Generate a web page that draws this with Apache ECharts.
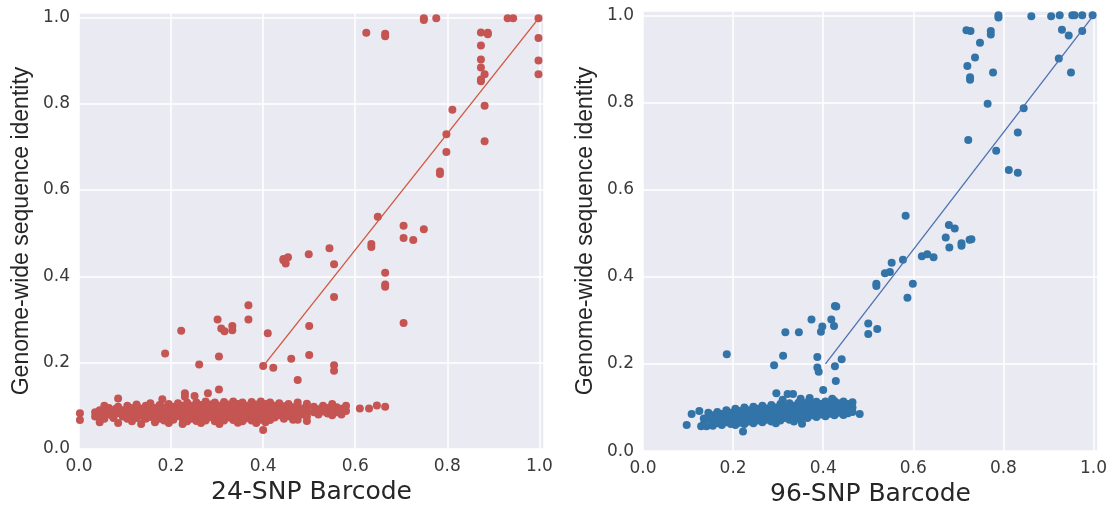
<!DOCTYPE html>
<html>
<head>
<meta charset="utf-8">
<script src="https://cdn.jsdelivr.net/npm/echarts@6/dist/echarts.min.js"></script>
<style>
  html, body { margin: 0; padding: 0; background: #fff; }
  #chart { width: 1111px; height: 512px; }
</style>
</head>
<body>
<div id="chart"></div>
<script>
// tick values shared by both panels
const tickValues = [0.0, 0.2, 0.4, 0.6, 0.8, 1.0];

// 24-SNP panel: dense band near 0.08 (x, y)
const band24 = [
  [0.035,0.085],[0.035,0.075],[0.045,0.09],[0.045,0.078],[0.045,0.062],[0.055,0.1],[0.055,0.085],[0.055,0.07],
  [0.065,0.095],[0.065,0.082],[0.075,0.088],[0.075,0.072],[0.085,0.098],[0.085,0.083],[0.085,0.06],[0.095,0.09],
  [0.095,0.075],[0.105,0.1],[0.105,0.088],[0.105,0.07],[0.115,0.095],[0.115,0.08],[0.115,0.064],[0.125,0.103],
  [0.125,0.087],[0.125,0.072],[0.135,0.092],[0.135,0.078],[0.135,0.058],[0.145,0.1],[0.145,0.085],[0.145,0.07],
  [0.155,0.106],[0.155,0.09],[0.155,0.074],[0.165,0.095],[0.165,0.08],[0.165,0.062],[0.175,0.102],[0.175,0.087],
  [0.175,0.07],[0.185,0.097],[0.185,0.082],[0.185,0.066],[0.195,0.104],[0.195,0.09],[0.195,0.075],[0.195,0.06],
  [0.205,0.098],[0.205,0.083],[0.205,0.068],[0.215,0.106],[0.215,0.092],[0.215,0.077],[0.225,0.1],[0.225,0.086],
  [0.225,0.07],[0.225,0.058],[0.235,0.107],[0.235,0.093],[0.235,0.078],[0.235,0.064],[0.245,0.1],[0.245,0.085],
  [0.245,0.07],[0.255,0.108],[0.255,0.094],[0.255,0.08],[0.255,0.065],[0.265,0.102],[0.265,0.087],[0.265,0.072],
  [0.265,0.06],[0.275,0.11],[0.275,0.095],[0.275,0.08],[0.275,0.066],[0.285,0.103],[0.285,0.089],[0.285,0.074],
  [0.295,0.108],[0.295,0.094],[0.295,0.079],[0.295,0.064],[0.305,0.1],[0.305,0.086],[0.305,0.071],[0.305,0.058],
  [0.315,0.109],[0.315,0.095],[0.315,0.08],[0.315,0.066],[0.325,0.103],[0.325,0.088],[0.325,0.073],[0.335,0.11],
  [0.335,0.096],[0.335,0.081],[0.335,0.067],[0.345,0.104],[0.345,0.09],[0.345,0.075],[0.345,0.061],[0.355,0.108],
  [0.355,0.093],[0.355,0.078],[0.355,0.064],[0.365,0.1],[0.365,0.086],[0.365,0.072],[0.375,0.109],[0.375,0.095],
  [0.375,0.08],[0.375,0.066],[0.385,0.103],[0.385,0.089],[0.385,0.074],[0.385,0.06],[0.395,0.11],[0.395,0.096],
  [0.395,0.082],[0.395,0.068],[0.405,0.104],[0.405,0.09],[0.405,0.076],[0.405,0.062],[0.415,0.108],[0.415,0.094],
  [0.415,0.079],[0.415,0.067],[0.425,0.1],[0.425,0.086],[0.425,0.073],[0.435,0.106],[0.435,0.092],[0.435,0.078],
  [0.445,0.099],[0.445,0.085],[0.445,0.07],[0.455,0.104],[0.455,0.09],[0.455,0.076],[0.465,0.097],[0.465,0.083],
  [0.465,0.068],[0.475,0.108],[0.475,0.098],[0.475,0.088],[0.475,0.078],[0.475,0.068],[0.485,0.094],[0.485,0.08],
  [0.495,0.105],[0.495,0.095],[0.495,0.085],[0.495,0.075],[0.495,0.065],[0.51,0.098],[0.51,0.085],[0.52,0.092],
  [0.52,0.08],[0.53,0.1],[0.53,0.087],[0.54,0.095],[0.54,0.082],[0.55,0.104],[0.55,0.09],[0.55,0.078],
  [0.56,0.097],[0.56,0.085],[0.57,0.093],[0.57,0.08],[0.58,0.1],[0.58,0.088]
];
// 24-SNP panel: extra band points between the rows above
const band24b = [
  [0.07,0.078],[0.08,0.093],[0.09,0.085],[0.1,0.078],[0.11,0.088],[0.12,0.08],[0.13,0.095],[0.14,0.075],
  [0.15,0.09],[0.16,0.085],[0.17,0.078],[0.18,0.092],[0.19,0.082],[0.2,0.09],[0.21,0.075],[0.22,0.095],
  [0.23,0.085],[0.24,0.072],[0.25,0.1],[0.26,0.08],[0.27,0.088],[0.28,0.073],[0.29,0.098],[0.3,0.083],
  [0.31,0.068],[0.32,0.092],[0.33,0.076],[0.34,0.1],[0.35,0.085],[0.36,0.07],[0.37,0.093],[0.38,0.079],
  [0.39,0.102],[0.4,0.085],[0.41,0.07],[0.42,0.094],[0.43,0.082],[0.44,0.09],[0.45,0.08],[0.46,0.092],
  [0.53,0.094],[0.55,0.084],[0.565,0.09]
];

// 24-SNP panel: scattered points
const outliers24 = [
  [0.002,0.083],[0.002,0.067],[0.085,0.117],[0.181,0.115],[0.23,0.129],[0.23,0.121],[0.251,0.123],[0.28,0.129],
  [0.304,0.138],[0.4,0.044],[0.187,0.221],[0.222,0.274],[0.261,0.196],[0.301,0.3],[0.304,0.214],[0.309,0.279],
  [0.316,0.273],[0.333,0.285],[0.333,0.275],[0.368,0.333],[0.368,0.3],[0.4,0.192],[0.41,0.268],[0.422,0.188],
  [0.444,0.44],[0.454,0.444],[0.444,0.437],[0.449,0.43],[0.461,0.209],[0.475,0.16],[0.499,0.451],[0.5,0.285],
  [0.5,0.218],[0.544,0.465],[0.554,0.428],[0.554,0.352],[0.554,0.194],[0.554,0.181],[0.61,0.094],[0.63,0.094],
  [0.647,0.101],[0.665,0.098],[0.624,0.964],[0.635,0.475],[0.635,0.468],[0.649,0.538],[0.665,0.962],[0.665,0.956],
  [0.665,0.408],[0.665,0.381],[0.665,0.376],[0.705,0.517],[0.705,0.489],[0.705,0.292],[0.726,0.484],[0.749,0.509],
  [0.749,0.998],[0.749,0.994],[0.776,0.998],[0.784,0.643],[0.784,0.637],[0.798,0.729],[0.798,0.688],[0.811,0.786],
  [0.873,0.965],[0.873,0.935],[0.873,0.902],[0.873,0.884],[0.873,0.856],[0.873,0.852],[0.881,0.868],[0.881,0.795],
  [0.881,0.713],[0.888,0.964],[0.888,0.961],[0.931,0.998],[0.943,0.998],[0.998,0.998],[0.998,0.952],[0.998,0.9],
  [0.998,0.868]
];

// 96-SNP panel: dense band
const band96 = [
  [0.135,0.075],[0.135,0.062],[0.145,0.088],[0.145,0.074],[0.155,0.082],[0.155,0.068],[0.155,0.058],[0.165,0.09],
  [0.165,0.076],[0.165,0.064],[0.175,0.085],[0.175,0.07],[0.175,0.06],[0.185,0.094],[0.185,0.08],[0.185,0.066],
  [0.195,0.088],[0.195,0.075],[0.195,0.062],[0.205,0.097],[0.205,0.083],[0.205,0.07],[0.205,0.06],[0.215,0.092],
  [0.215,0.078],[0.215,0.065],[0.225,0.1],[0.225,0.086],[0.225,0.072],[0.225,0.062],[0.235,0.094],[0.235,0.08],
  [0.235,0.068],[0.245,0.102],[0.245,0.088],[0.245,0.075],[0.245,0.064],[0.255,0.097],[0.255,0.083],[0.255,0.07],
  [0.265,0.104],[0.265,0.09],[0.265,0.077],[0.265,0.066],[0.275,0.098],[0.275,0.085],[0.275,0.072],[0.285,0.106],
  [0.285,0.092],[0.285,0.079],[0.285,0.068],[0.295,0.1],[0.295,0.087],[0.295,0.074],[0.295,0.064],[0.305,0.108],
  [0.305,0.094],[0.305,0.081],[0.305,0.07],[0.315,0.102],[0.315,0.089],[0.315,0.076],[0.325,0.11],[0.325,0.096],
  [0.325,0.083],[0.325,0.072],[0.335,0.104],[0.335,0.091],[0.335,0.078],[0.335,0.068],[0.345,0.111],[0.345,0.097],
  [0.345,0.085],[0.345,0.074],[0.355,0.105],[0.355,0.092],[0.355,0.08],[0.365,0.112],[0.365,0.099],[0.365,0.087],
  [0.365,0.076],[0.375,0.107],[0.375,0.094],[0.375,0.082],[0.385,0.113],[0.385,0.1],[0.385,0.088],[0.385,0.078],
  [0.395,0.108],[0.395,0.096],[0.395,0.084],[0.405,0.114],[0.405,0.102],[0.405,0.09],[0.405,0.08],[0.415,0.109],
  [0.415,0.097],[0.415,0.086],[0.425,0.115],[0.425,0.103],[0.425,0.092],[0.425,0.082],[0.435,0.11],[0.435,0.098],
  [0.435,0.088],[0.445,0.114],[0.445,0.103],[0.445,0.092],[0.445,0.083],[0.455,0.108],[0.455,0.097],[0.455,0.087],
  [0.465,0.112],[0.465,0.1],[0.465,0.09]
];
// 96-SNP panel: extra band points between the rows above
const band96b = [
  [0.15,0.075],[0.16,0.07],[0.17,0.082],[0.18,0.072],[0.19,0.085],[0.2,0.078],[0.21,0.088],[0.22,0.068],
  [0.23,0.09],[0.24,0.075],[0.25,0.095],[0.26,0.08],[0.27,0.093],[0.28,0.076],[0.29,0.094],[0.3,0.08],
  [0.31,0.098],[0.32,0.084],[0.33,0.1],[0.34,0.088],[0.35,0.102],[0.36,0.09],[0.37,0.104],[0.38,0.092],
  [0.39,0.106],[0.4,0.095],[0.41,0.108],[0.42,0.098],[0.43,0.106],[0.44,0.096],[0.45,0.105],[0.46,0.094],
  [0.31,0.118],[0.35,0.12],[0.37,0.122],[0.42,0.12]
];

// 96-SNP panel: scattered points
const outliers96 = [
  [0.097,0.06],[0.108,0.085],[0.125,0.092],[0.129,0.057],[0.141,0.057],[0.222,0.045],[0.353,0.063],[0.481,0.085],
  [0.296,0.133],[0.321,0.131],[0.333,0.131],[0.4,0.14],[0.428,0.161],[0.186,0.222],[0.291,0.197],[0.311,0.219],
  [0.316,0.273],[0.346,0.273],[0.374,0.302],[0.387,0.216],[0.387,0.192],[0.39,0.182],[0.398,0.286],[0.395,0.274],
  [0.418,0.302],[0.424,0.287],[0.426,0.333],[0.429,0.332],[0.426,0.195],[0.441,0.211],[0.5,0.293],[0.52,0.28],
  [0.5,0.269],[0.518,0.384],[0.518,0.379],[0.537,0.408],[0.548,0.411],[0.552,0.432],[0.577,0.439],[0.583,0.54],
  [0.587,0.352],[0.599,0.384],[0.619,0.447],[0.631,0.452],[0.645,0.445],[0.672,0.49],[0.679,0.519],[0.692,0.511],
  [0.68,0.467],[0.707,0.477],[0.707,0.471],[0.725,0.485],[0.729,0.486],[0.718,0.966],[0.727,0.964],[0.72,0.884],
  [0.722,0.714],[0.726,0.858],[0.726,0.852],[0.737,0.903],[0.748,0.937],[0.765,0.797],[0.772,0.964],[0.772,0.956],
  [0.777,0.869],[0.784,0.689],[0.789,1.0],[0.789,0.995],[0.812,0.645],[0.832,0.639],[0.832,0.731],[0.845,0.787],
  [0.862,0.998],[0.906,0.998],[0.923,0.901],[0.925,1.0],[0.93,0.967],[0.945,0.954],[0.95,0.869],[0.953,1.0],
  [0.958,1.0],[0.975,1.0],[0.975,0.964],[0.998,1.0]
];

// fitted lines (start, end)
const fit24 = [[0.4, 0.192], [1.0, 1.0]];
const fit96 = [[0.405, 0.2], [1.0, 1.0]];

const chart = echarts.init(document.getElementById('chart'));

const tickFmt = v => tickValues.some(t => Math.abs(t - v) < 1e-6) ? v.toFixed(1) : '';

function makeX(idx, name) {
  return {
    type: 'value', gridIndex: idx, min: 0, max: 1.01, interval: 0.2,
    name: name, nameLocation: 'middle', nameGap: 26,
    nameTextStyle: { fontFamily: 'DejaVu Sans', fontSize: 25, color: '#262626' },
    axisLine: { show: false }, axisTick: { show: false },
    axisLabel: { fontFamily: 'DejaVu Sans', fontSize: 17, color: '#3a3a3a', margin: 9, formatter: tickFmt },
    splitLine: { lineStyle: { color: '#ffffff', width: 1.5 } }
  };
}
function makeY(idx) {
  return {
    type: 'value', gridIndex: idx, min: 0, max: 1.01, interval: 0.2,
    name: 'Genome-wide sequence identity', nameLocation: 'middle', nameGap: 46,
    nameTextStyle: { fontFamily: 'Liberation Sans', fontSize: 23, color: '#262626' },
    axisLine: { show: false }, axisTick: { show: false },
    axisLabel: { fontFamily: 'DejaVu Sans', fontSize: 17, color: '#3a3a3a', margin: 9, formatter: tickFmt },
    splitLine: { lineStyle: { color: '#ffffff', width: 1.5 } }
  };
}

const option = {
  animation: false,
  backgroundColor: '#ffffff',
  grid: [
    { left: 79, top: 13, width: 465, height: 436, show: true, backgroundColor: '#EAEAF2', borderWidth: 0 },
    { left: 643, top: 11, width: 455, height: 444, show: true, backgroundColor: '#EAEAF2', borderWidth: 0 }
  ],
  xAxis: [makeX(0, '24-SNP Barcode'), makeX(1, '96-SNP Barcode')],
  yAxis: [makeY(0), makeY(1)],
  series: [
    { type: 'scatter', xAxisIndex: 0, yAxisIndex: 0, data: band24.concat(band24b, outliers24), symbolSize: 8,
      itemStyle: { color: '#C55552', opacity: 1 } },
    { type: 'line', xAxisIndex: 0, yAxisIndex: 0, data: fit24, symbol: 'none',
      lineStyle: { color: '#D1553F', width: 1.3 } },
    { type: 'scatter', xAxisIndex: 1, yAxisIndex: 1, data: band96.concat(band96b, outliers96), symbolSize: 8,
      itemStyle: { color: '#3274A8', opacity: 1 } },
    { type: 'line', xAxisIndex: 1, yAxisIndex: 1, data: fit96, symbol: 'none',
      lineStyle: { color: '#4C72B0', width: 1.3 } }
  ]
};
chart.setOption(option);
</script>
</body>
</html>
